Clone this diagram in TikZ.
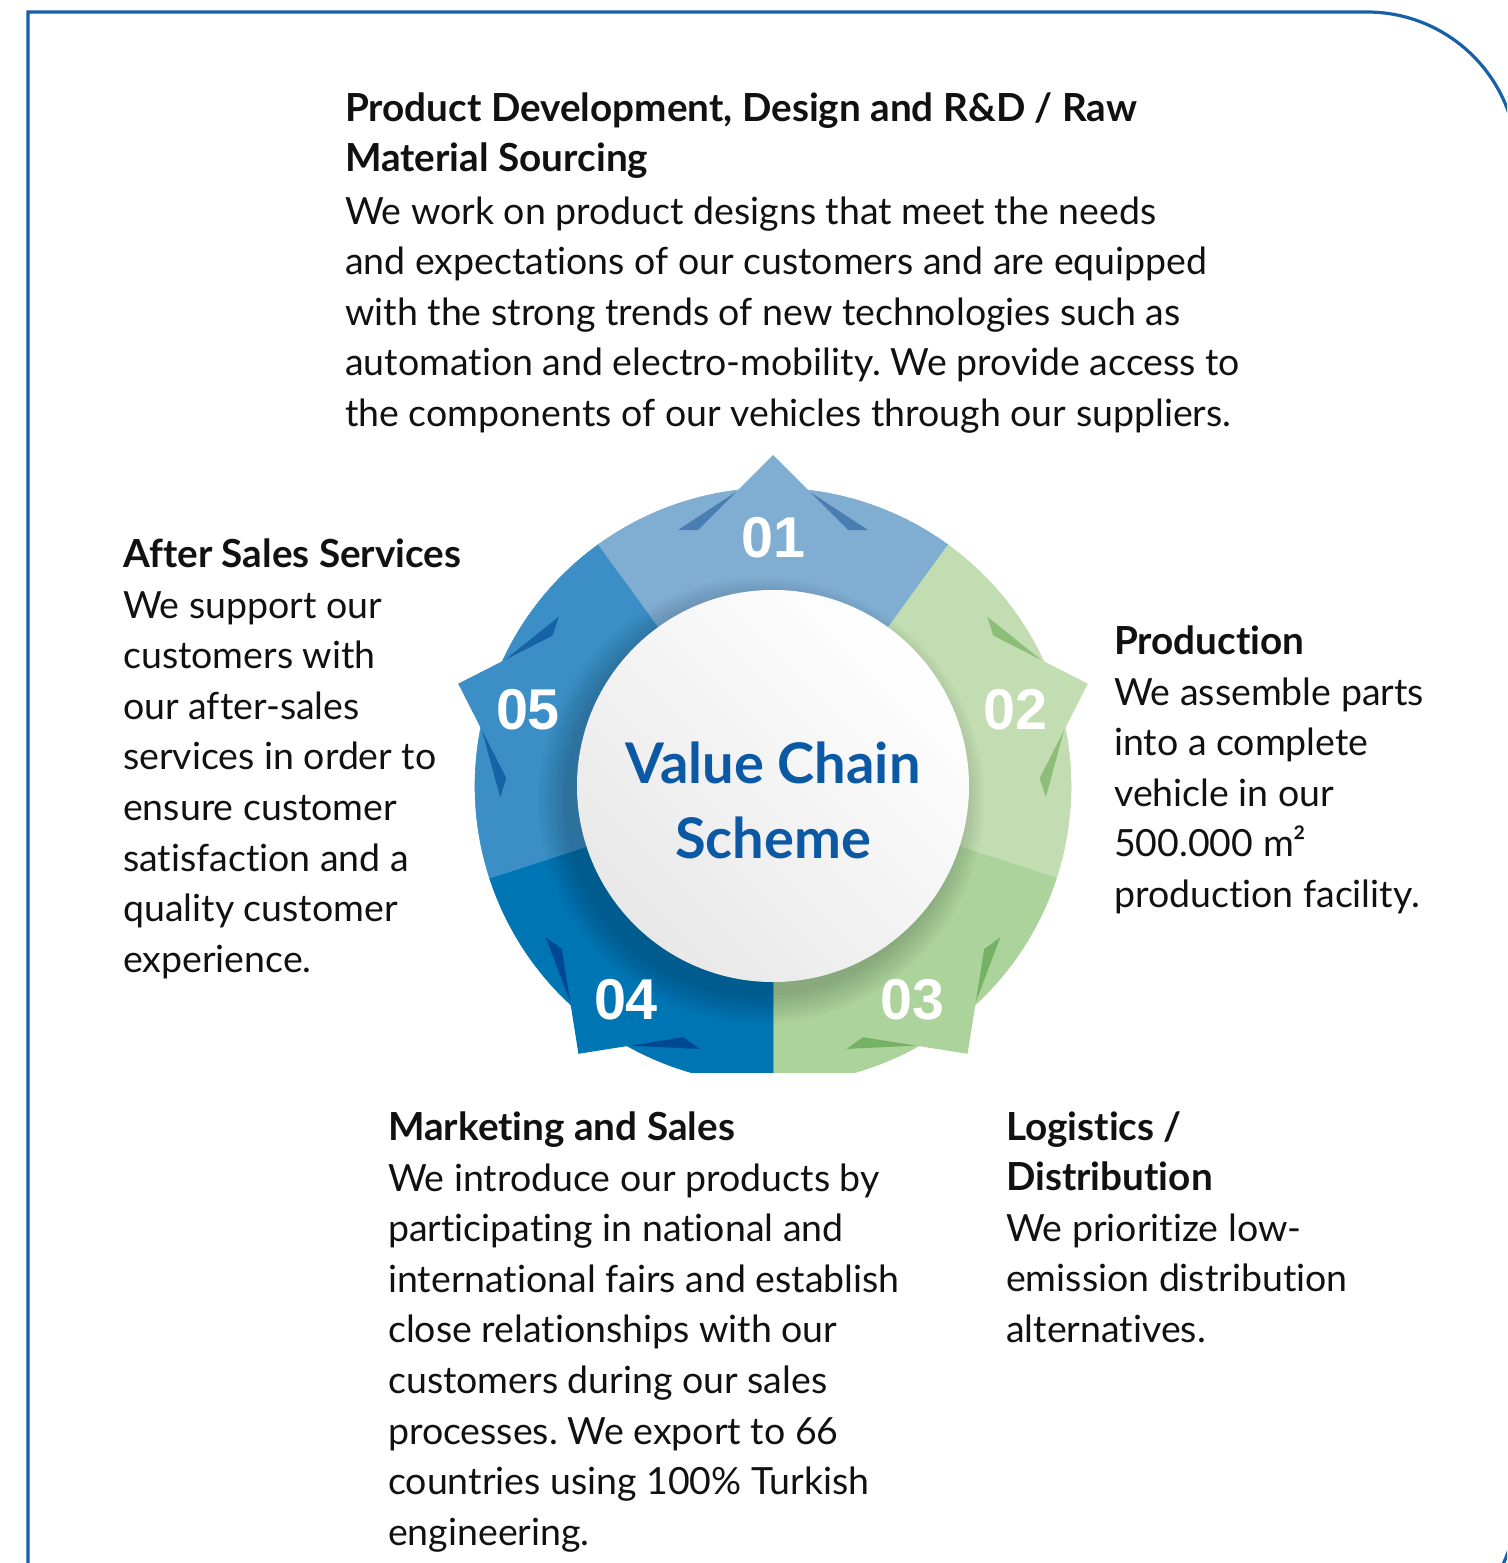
\documentclass[tikz,border=0pt]{standalone}
\usepackage{fontspec}
\setmainfont{Lato}[Ligatures={NoCommon}]
\newfontfamily\numfont{Liberation Sans}
\usepackage{tikz}
\usetikzlibrary{calc}
\frenchspacing
\newlength\mylen
\settowidth\mylen{\fontsize{20pt}{24pt}\selectfont We work on product designs that meet the needs}
\pgfmathsetmacro\bodysz{20*811/\mylen}
\settowidth\mylen{\bfseries\fontsize{20pt}{24pt}\selectfont Product Development, Design and R\&D / Raw}
\pgfmathsetmacro\headsz{20*792/\mylen}
\settowidth\mylen{\bfseries\fontsize{20pt}{24pt}\selectfont Value Chain}
\pgfmathsetmacro\titlesz{20*295/\mylen}
\settowidth\mylen{\numfont\bfseries\fontsize{20pt}{24pt}\selectfont 01}
\pgfmathsetmacro\numsz{20*64/\mylen}
\definecolor{frameblue}{RGB}{22,96,168}
\definecolor{titleblue}{RGB}{11,88,164}
\definecolor{txt}{RGB}{17,17,17}
\definecolor{c1}{RGB}{128,174,211}
\definecolor{d1}{RGB}{74,126,178}
\definecolor{c2}{RGB}{193,221,177}
\definecolor{d2}{RGB}{140,190,120}
\definecolor{c3}{RGB}{172,211,155}
\definecolor{d3}{RGB}{118,178,100}
\definecolor{c4}{RGB}{0,117,180}
\definecolor{d4}{RGB}{0,72,145}
\definecolor{c5}{RGB}{59,143,198}
\definecolor{d5}{RGB}{24,98,166}
\begin{document}
\begin{tikzpicture}[x=1pt,y=-1pt,
  frame/.style={draw=frameblue, line width=3.2pt},
  body/.style={font=\fontsize{\bodysz pt}{\bodysz pt}\selectfont, text=txt, anchor=base west, inner sep=0pt},
  head/.style={font=\bfseries\fontsize{\headsz pt}{\headsz pt}\selectfont, text=txt, anchor=base west, inner sep=0pt},
  num/.style={font=\numfont\bfseries\fontsize{\numsz pt}{\numsz pt}\selectfont, text=white, anchor=center, inner sep=0pt},
  title/.style={font=\bfseries\fontsize{\titlesz pt}{\titlesz pt}\selectfont, text=titleblue, anchor=center, inner sep=0pt}]
\useasboundingbox (0,0) rectangle (1507,1563);
\clip (0,0) rectangle (1507,1563);
\fill[white] (0,0) rectangle (1507,1563);
% frame
\draw[frame] (28,1700) -- (28,12) -- (1367,12) arc[start angle=-90, end angle=0, radius=150]
  -- (1517,1501) arc[start angle=0, end angle=90, radius=150] -- (28,1651);
% wheel
\begin{scope}[shift={(773,786)}, y=1pt]
  \clip (-420,-286) rectangle (420,420);
  \foreach \a/\c/\d in {90/c1/d1, 18/c2/d2, -54/c3/d3, -126/c4/d4, 162/c5/d5} {
    \fill[\c, draw=\c, line width=0.6pt] (\a-36:196) arc[start angle=\a-36, end angle=\a+36, radius=196]
      -- (\a+36:298) arc[start angle=\a+36, end angle=\a-36, radius=298] -- cycle;
    \fill[\c] (\a:331) -- ($(\a:256)+(\a+90:75)$) -- ($(\a:256)+(\a-90:75)$) -- cycle;
    \fill[\d] ($(\a:256)+(\a+90:75)$) -- ($(\a:256)+(\a+90:95)$) -- ($(\a:294)+(\a+90:37)$) -- cycle;
    \fill[\d] ($(\a:256)+(\a-90:75)$) -- ($(\a:256)+(\a-90:95)$) -- ($(\a:294)+(\a-90:37)$) -- cycle;
  }
  \foreach \k in {0,...,9}
    \fill[black, opacity=0.018] (-12,-14) circle[radius=196+3*\k];
  \shade[top color=white, bottom color=black!9, shading angle=-45] (0,0) circle[radius=196];
\end{scope}
% numbers and title
\node[num] (n1) at (773,538) {01};
\node[num] (n2) at (1015,710) {02};
\node[num] (n3) at (912,1000) {03};
\node[num] (n4) at (626,1000) {04};
\node[num] (n5) at (528,710) {05};
\node[title] (vc1) at (773,763) {Value Chain};
\node[title] (vc2) at (773,838) {Scheme};
% top block
\foreach \t [count=\i from 0] in {{Product Development, Design and R\&D / Raw}, {Material Sourcing}}
  \node[head, name=th\i] at (345,121+\i*50.6) {\t};
\foreach \t [count=\i from 0] in {{We work on product designs that meet the needs},
  {and expectations of our customers and are equipped},
  {with the strong trends of new technologies such as},
  {automation and electro-mobility. We provide access to},
  {the components of our vehicles through our suppliers.}}
  \node[body, name=tb\i] at (345,224+\i*50.6) {\t};
% after sales
\node[head] (ah) at (123,567) {After Sales Services};
\foreach \t [count=\i from 0] in {We support our, customers with, our after-sales, services in order to,
  ensure customer, satisfaction and a, quality customer, experience.}
  \node[body, name=ab\i] at (123,618+\i*50.6) {\t};
% production
\node[head] (ph) at (1114,654) {Production};
\foreach \t [count=\i from 0] in {We assemble parts, into a complete, vehicle in our, 500.000 m², production facility.}
  \node[body, name=pb\i] at (1114,705+\i*50.6) {\t};
% marketing
\node[head] (mh) at (388,1140) {Marketing and Sales};
\foreach \t [count=\i from 0] in {We introduce our products by, participating in national and,
  international fairs and establish, close relationships with our, customers during our sales,
  processes. We export to 66, countries using 100\% Turkish, engineering.}
  \node[body, name=mb\i] at (388,1191+\i*50.6) {\t};
% logistics
\foreach \t [count=\i from 0] in {Logistics /, Distribution}
  \node[head, name=lh\i] at (1006,1140+\i*50.6) {\t};
\foreach \t [count=\i from 0] in {We prioritize low-, emission distribution, alternatives.}
  \node[body, name=lb\i] at (1006,1241+\i*50.6) {\t};
\end{tikzpicture}
\end{document}
